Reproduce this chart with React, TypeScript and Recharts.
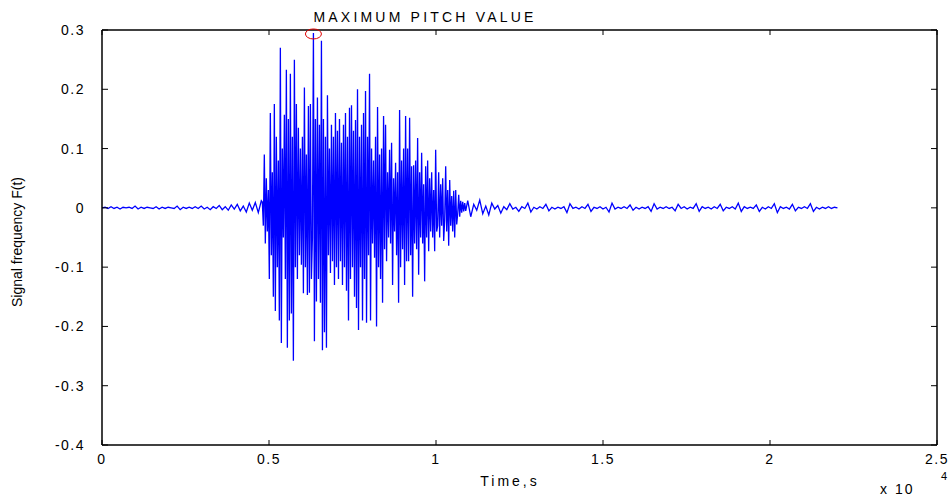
import React from "react";
import { LineChart, Line, XAxis, YAxis, ReferenceDot } from "recharts";

// Time ticks (samples) and their labels (x 10^4)
const xTicks = [0, 5000, 10000, 15000, 20000, 25000];
const xTickLabels = ["0", "0.5", "1", "1.5", "2", "2.5"];
const yTicks = [-0.4, -0.3, -0.2, -0.1, 0, 0.1, 0.2, 0.3];
const yTickLabels = ["-0.4", "-0.3", "-0.2", "-0.1", "0", "0.1", "0.2", "0.3"];

// Quiet lead-in, sampled every 90 samples starting at 0
const leadStart = 0;
const leadStep = 90;
const leadValues = [
  0, 0.001, -0.001, 0.002, -0.001, 0.001, -0.002, 0.001, 0, 0.001,
  -0.001, 0.003, -0.002, 0.001, -0.001, 0.001, 0, -0.001, 0.002, -0.002,
  0.001, -0.001, 0.001, 0, -0.001, 0.003, -0.003, 0.001, -0.001, 0.001,
  -0.001, 0.002, -0.001, 0.003, -0.002, 0.001, -0.003, 0.002, -0.001, 0.004,
  -0.003, 0.002, -0.004, 0.005, -0.002, 0.006, -0.005, 0.003, -0.007, 0.008,
  -0.004, 0.009, -0.008, 0.012,
];

// Voiced segment, sampled every 30 samples starting at 4800
const voicedStart = 4800;
const voicedStep = 30;
const voicedValues = [
  0.01, -0.03, 0.09, -0.06, 0.05, -0.04, 0.03, -0.12, 0.16, -0.08,
  0.06, -0.15, 0.175, -0.174, 0.12, -0.1, 0.08, -0.19, 0.27, -0.228,
  0.1, -0.05, 0.157, -0.12, 0.233, -0.236, 0.15, -0.19, 0.226, -0.178,
  0.12, -0.258, 0.25, -0.1, 0.175, -0.12, 0.135, -0.08, 0.1, -0.096,
  0.12, -0.144, 0.203, -0.1, 0.09, -0.147, 0.172, -0.143, 0.175, -0.12,
  -0.05, 0.295, -0.225, 0.15, -0.158, 0.186, -0.12, 0.14, -0.16, 0.282,
  -0.24, 0.15, -0.21, 0.12, -0.236, 0.19, -0.08, 0.1, -0.11, 0.14,
  -0.09, 0.12, -0.13, 0.16, -0.1, 0.13, -0.12, 0.15, -0.09, 0.11,
  -0.13, 0.14, -0.1, 0.16, -0.14, 0.12, -0.19, 0.169, -0.12, 0.173,
  -0.1, 0.13, -0.15, 0.148, -0.169, 0.2, -0.206, 0.12, -0.1, 0.14,
  -0.19, 0.16, -0.12, 0.197, -0.194, 0.12, -0.08, 0.226, -0.19, 0.1,
  -0.06, 0.08, -0.084, 0.12, -0.2, 0.17, -0.1, 0.09, -0.12, 0.1,
  -0.16, 0.155, -0.07, 0.14, -0.09, 0.06, -0.05, 0.098, -0.06, 0.11,
  -0.13, 0.05, -0.04, 0.076, -0.08, 0.06, -0.16, 0.165, -0.1, 0.08,
  -0.07, 0.1, -0.13, 0.155, -0.09, 0.1, -0.09, 0.152, -0.08, 0.07,
  -0.15, 0.072, -0.06, 0.08, -0.07, 0.118, -0.113, 0.06, -0.05, 0.093,
  -0.06, 0.04, -0.124, 0.07, -0.05, 0.08, -0.073, 0.05, -0.04, 0.06,
  -0.05, 0.03, -0.073, 0.098, -0.04, -0.03, 0.06, -0.05, 0.04, -0.03,
  0.05, -0.056, -0.02, 0.07, -0.04, 0.03, -0.064, 0.047, -0.03, 0.02,
  -0.04, 0.029, -0.05, 0.03, -0.028, -0.01, 0.022, -0.015, 0.012, -0.008,
  0.01, -0.006, 0.008, -0.005,
];

// Quiet tail, sampled every 90 samples starting at 10950
const tailStart = 10950;
const tailStep = 90;
const tailValues = [
  0.012, -0.015, 0.006, -0.004, 0.013, -0.01, 0.003, -0.012, 0.008, -0.002,
  0.004, -0.009, 0.002, -0.003, 0.007, -0.002, 0.001, -0.006, 0.002, -0.001,
  0.008, -0.007, 0.001, -0.002, 0.002, -0.001, 0.006, -0.005, 0.001, -0.002,
  0.001, -0.001, 0.002, -0.008, 0.007, -0.001, 0.001, -0.002, 0.002, -0.001,
  0.006, -0.006, 0.001, -0.001, 0.002, -0.002, 0.001, -0.007, 0.008, -0.002,
  0.001, -0.001, 0.002, -0.001, 0.005, -0.004, 0.001, -0.002, 0.001, -0.001,
  0.002, -0.006, 0.007, -0.002, 0.001, -0.001, 0.002, -0.001, 0.001, -0.005,
  0.006, -0.001, 0.002, -0.002, 0.001, -0.001, 0.007, -0.006, 0.002, -0.001,
  0.001, -0.002, 0.002, -0.001, 0.006, -0.005, 0.001, -0.001, 0.002, -0.002,
  0.008, -0.006, 0.002, -0.001, 0.001, -0.001, 0.005, -0.006, 0.001, -0.002,
  0.002, -0.001, 0.007, -0.008, 0.002, -0.001, 0.001, -0.002, 0.006, -0.005,
  0.001, -0.001, 0.002, -0.001, 0.007, -0.006, 0.001, -0.002, 0.001, -0.001,
  0.002, -0.001, 0.001, 0,
];

const segment = (start: number, step: number, values: number[]) =>
  values.map((v, i) => ({ t: start + i * step, v }));

const data = [
  ...segment(leadStart, leadStep, leadValues),
  ...segment(voicedStart, voicedStep, voicedValues),
  ...segment(tailStart, tailStep, tailValues),
];

const peak = data.reduce((a, b) => (b.v > a.v ? b : a), data[0]);

const FONT = "'Liberation Sans', Arial, sans-serif";

const fmtX = (v: number) => xTickLabels[xTicks.indexOf(v)] ?? String(v);
const fmtY = (v: number) => {
  const i = yTicks.findIndex((t) => Math.abs(t - v) < 1e-9);
  return i >= 0 ? yTickLabels[i] : String(v);
};

const BottomTick = (p: any) => (
  <g>
    <line x1={p.x} y1={p.y} x2={p.x} y2={p.y - 5} stroke="#000" strokeWidth={1} />
    <text x={p.x} y={p.y + 19} textAnchor="middle" fontSize={14} fontFamily={FONT} fill="#000" letterSpacing={1.5}>
      {fmtX(p.payload.value)}
    </text>
  </g>
);
const TopTick = (p: any) => (
  <line x1={p.x} y1={p.y} x2={p.x} y2={p.y + 5} stroke="#000" strokeWidth={1} />
);
const LeftTick = (p: any) => (
  <g>
    <line x1={p.x} y1={p.y} x2={p.x + 6} y2={p.y} stroke="#000" strokeWidth={1} />
    <text x={p.x - 17} y={p.y + 5} textAnchor="end" fontSize={14} fontFamily={FONT} fill="#000" letterSpacing={1.5}>
      {fmtY(p.payload.value)}
    </text>
  </g>
);
const RightTick = (p: any) => (
  <line x1={p.x} y1={p.y} x2={p.x - 6} y2={p.y} stroke="#000" strokeWidth={1} />
);

const axisLine = { stroke: "#000", strokeWidth: 1.5 };

export default function App() {
  return (
    <div style={{ position: "absolute", left: 0, top: 0, width: 951, height: 498, background: "#fff" }}>
      <LineChart width={951} height={498} data={data} margin={{ top: 0, right: 0, bottom: 0, left: 0 }}>
        <XAxis
          dataKey="t"
          type="number"
          domain={[0, 25000]}
          ticks={xTicks}
          height={53}
          tickSize={0}
          tickMargin={0}
          axisLine={axisLine}
          tickLine={false}
          tick={BottomTick}
          interval={0}
          allowDataOverflow
        />
        <XAxis
          xAxisId="top"
          orientation="top"
          dataKey="t"
          type="number"
          domain={[0, 25000]}
          ticks={xTicks}
          height={30}
          tickSize={0}
          tickMargin={0}
          axisLine={axisLine}
          tickLine={false}
          tick={TopTick}
          interval={0}
          allowDataOverflow
        />
        <YAxis
          type="number"
          domain={[-0.4, 0.3]}
          ticks={yTicks}
          width={102}
          tickSize={0}
          tickMargin={0}
          axisLine={axisLine}
          tickLine={false}
          tick={LeftTick}
          interval={0}
          allowDataOverflow
        />
        <YAxis
          yAxisId="right"
          orientation="right"
          type="number"
          domain={[-0.4, 0.3]}
          ticks={yTicks}
          width={14}
          tickSize={0}
          tickMargin={0}
          axisLine={axisLine}
          tickLine={false}
          tick={RightTick}
          interval={0}
          allowDataOverflow
        />
        <Line
          type="linear"
          dataKey="v"
          stroke="#0000ff"
          strokeWidth={1.3}
          dot={false}
          isAnimationActive={false}
        />
        <ReferenceDot
          x={peak.t}
          y={peak.v}
          r={6}
          ifOverflow="visible"
          shape={(p: any) => (
            <ellipse cx={p.cx} cy={p.cy + 1} rx={8} ry={5} fill="none" stroke="#e00000" strokeWidth={1} />
          )}
        />
      </LineChart>
      <svg width={951} height={498} style={{ position: "absolute", left: 0, top: 0, pointerEvents: "none" }}>
        <text x={425} y={22} textAnchor="middle" fontSize={14} fontFamily={FONT} letterSpacing={3.2} fill="#000">
          MAXIMUM PITCH VALUE
        </text>
        <text x={510} y={486} textAnchor="middle" fontSize={14} fontFamily={FONT} letterSpacing={3} fill="#000">
          Time,s
        </text>
        <text x={880} y={494} fontSize={14} fontFamily={FONT} letterSpacing={2} fill="#000">
          x 10
        </text>
        <text x={941} y={480} fontSize={11} fontFamily={FONT} fill="#000">
          4
        </text>
        <text
          x={22}
          y={242}
          transform="rotate(-90 22 242)"
          textAnchor="middle"
          fontSize={14}
          fontFamily={FONT}
          fill="#000"
        >
          Signal frequency F(t)
        </text>
      </svg>
    </div>
  );
}
